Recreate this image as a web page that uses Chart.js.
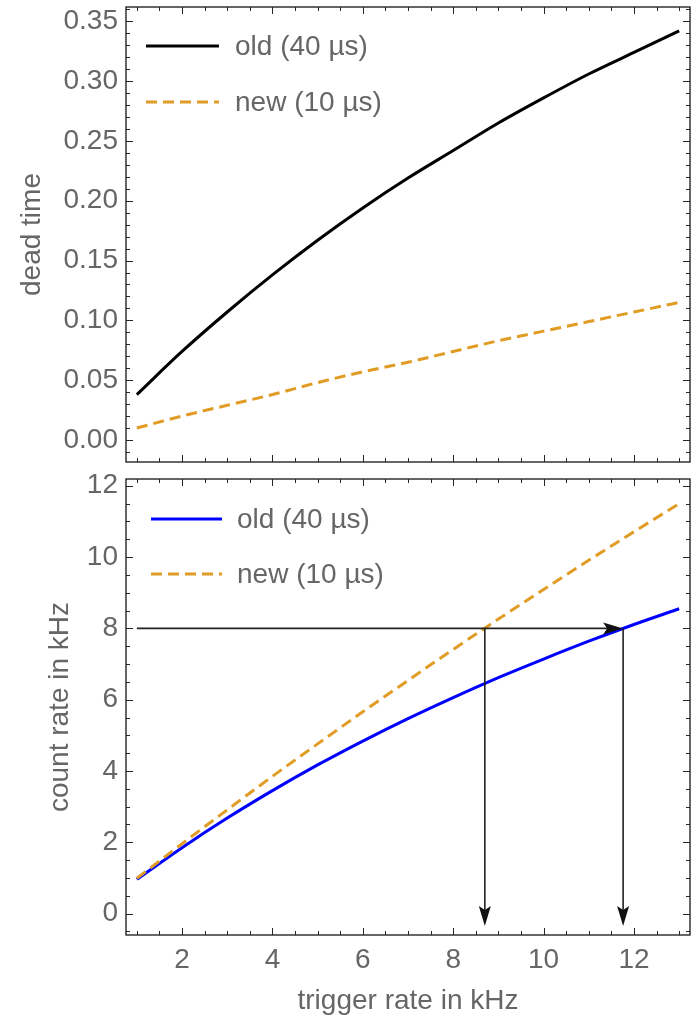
<!DOCTYPE html>
<html>
<head>
<meta charset="utf-8">
<script src="https://cdn.jsdelivr.net/npm/chart.js@4"></script>
<style>
  body { margin: 0; background: #fff; }
  #wrap { position: relative; width: 696px; height: 1018px; }
  canvas { position: absolute; left: 0; }
</style>
</head>
<body>
<div id="wrap">
  <canvas id="deadTime" width="696" height="470" style="top:0"></canvas>
  <canvas id="countRate" width="696" height="548" style="top:470px"></canvas>
</div>
<script>
// trigger rate in kHz
const triggerRate = [1, 2, 3, 4, 5, 6, 7, 8, 9, 10, 11, 12, 13];

// top panel: dead time fraction
const deadTimeOld = [0.038, 0.074, 0.107, 0.138, 0.167, 0.194, 0.219, 0.242, 0.265, 0.286, 0.306, 0.324, 0.342];
const deadTimeNew = [0.010, 0.020, 0.029, 0.038, 0.048, 0.057, 0.065, 0.074, 0.083, 0.091, 0.099, 0.107, 0.115];

// bottom panel: count rate in kHz
const countRateOld = [0.96, 1.85, 2.68, 3.45, 4.17, 4.84, 5.47, 6.06, 6.62, 7.14, 7.64, 8.11, 8.55];
const countRateNew = [0.99, 1.96, 2.91, 3.85, 4.76, 5.66, 6.54, 7.41, 8.26, 9.09, 9.91, 10.71, 11.50];

// arrows: 8 kHz count rate -> needed trigger rate
const arrowLevel = 8;
const arrowStartX = 1;
const crossNew = 8.70;
const crossOld = 11.76;
const arrowEndY = -0.35;

// ticks
const xMajor = [2, 4, 6, 8, 10, 12];
const xMinor = { from: 1, to: 13, step: 0.5 };
const deadMajor = [0.00, 0.05, 0.10, 0.15, 0.20, 0.25, 0.30, 0.35];
const deadMinor = { from: -0.01, to: 0.36, step: 0.01 };
const countMajor = [0, 2, 4, 6, 8, 10, 12];
const countMinor = { from: -0.5, to: 12, step: 0.5 };

const labels = ['old (40 µs)', 'new (10 µs)'];

const orange = '#e09c24';
const textGray = '#666666';
const frameColor = '#262626';
const fontFamily = '"Liberation Sans", Arial, sans-serif';

const range = (r) => {
    const out = [];
    const n = Math.round((r.to - r.from) / r.step);
    for (let i = 0; i <= n; i++) out.push(+(r.from + i * r.step).toFixed(4));
    return out;
};
const isMajor = (v, majors) => majors.some(m => Math.abs(m - v) < 1e-6);
const points = (ys) => triggerRate.map((x, i) => ({ x: x, y: ys[i] }));

const setTicks = (minor) => (scale) => {
    scale.ticks = range(minor).map(v => ({ value: v }));
};

// fixed axis box size, no extra padding for overhanging labels
const fixSize = (prop, size) => (s) => {
    s[prop] = size;
    s.paddingTop = 0;
    s.paddingBottom = 0;
    s.paddingLeft = 0;
    s.paddingRight = 0;
};

const frameTicks = (xMaj, yMaj) => ({
    id: 'frameTicks',
    afterDraw(chart) {
        const { ctx, chartArea: a, scales: { x, y } } = chart;
        ctx.save();
        ctx.strokeStyle = frameColor;
        ctx.lineWidth = 1;
        ctx.beginPath();
        x.ticks.forEach(t => {
            const px = Math.round(x.getPixelForValue(t.value)) + 0.5;
            const len = isMajor(t.value, xMaj) ? 7 : 4;
            ctx.moveTo(px, a.bottom); ctx.lineTo(px, a.bottom - len);
            ctx.moveTo(px, a.top); ctx.lineTo(px, a.top + len);
        });
        y.ticks.forEach(t => {
            const py = Math.round(y.getPixelForValue(t.value)) + 0.5;
            const len = isMajor(t.value, yMaj) ? 7 : 4;
            ctx.moveTo(a.left, py); ctx.lineTo(a.left + len, py);
            ctx.moveTo(a.right, py); ctx.lineTo(a.right - len, py);
        });
        ctx.stroke();
        ctx.lineWidth = 1.4;
        ctx.strokeRect(a.left, a.top, a.right - a.left, a.bottom - a.top);
        ctx.restore();
    }
});

const panelLegend = (lineX0, lineX1, textX, rowY) => ({
    id: 'panelLegend',
    afterDraw(chart) {
        const { ctx, chartArea: a } = chart;
        ctx.save();
        ctx.font = '28px ' + fontFamily;
        ctx.textBaseline = 'middle';
        ctx.fillStyle = textGray;
        chart.data.datasets.forEach(ds => {
            const i = labels.indexOf(ds.label);
            const yy = a.top + rowY[i];
            ctx.strokeStyle = ds.borderColor;
            ctx.lineWidth = ds.borderWidth;
            ctx.setLineDash(ds.borderDash || []);
            ctx.beginPath();
            ctx.moveTo(a.left + lineX0, yy);
            ctx.lineTo(a.left + lineX1, yy);
            ctx.stroke();
            ctx.fillText(ds.label, a.left + textX, yy + 1);
        });
        ctx.restore();
    }
});

const arrowHead = (ctx, x, y, dx, dy) => {
    const len = 20, half = 6;
    const bx = x - dx * len, by = y - dy * len;
    ctx.beginPath();
    ctx.moveTo(x, y);
    ctx.lineTo(bx - dy * half, by + dx * half);
    ctx.lineTo(bx + dx * 4, by + dy * 4);
    ctx.lineTo(bx + dy * half, by - dx * half);
    ctx.closePath();
    ctx.fill();
};

const arrows = {
    id: 'arrows',
    afterDatasetsDraw(chart) {
        const { ctx, scales: { x, y } } = chart;
        const px = (v) => x.getPixelForValue(v);
        const py = (v) => y.getPixelForValue(v);
        ctx.save();
        ctx.strokeStyle = '#222';
        ctx.fillStyle = '#111';
        ctx.lineWidth = 1.6;
        ctx.beginPath();
        ctx.moveTo(px(arrowStartX), py(arrowLevel));
        ctx.lineTo(px(crossOld) - 10, py(arrowLevel));
        ctx.moveTo(px(crossNew), py(arrowLevel));
        ctx.lineTo(px(crossNew), py(arrowEndY) - 10);
        ctx.moveTo(px(crossOld), py(arrowLevel));
        ctx.lineTo(px(crossOld), py(arrowEndY) - 10);
        ctx.stroke();
        arrowHead(ctx, px(crossOld), py(arrowLevel), 1, 0);
        arrowHead(ctx, px(crossNew), py(arrowEndY), 0, 1);
        arrowHead(ctx, px(crossOld), py(arrowEndY), 0, 1);
        ctx.restore();
    }
};

const tickFont = { family: fontFamily, size: 28 };
const titleFont = { family: fontFamily, size: 28 };

const xScale = (showLabels, height) => ({
    type: 'linear',
    min: 0.76,
    max: 13.24,
    afterBuildTicks: setTicks(xMinor),
    afterFit: fixSize('height', height),
    grid: { display: false, drawTicks: false },
    border: { display: false },
    ticks: {
        display: showLabels,
        autoSkip: false,
        maxRotation: 0,
        padding: 8,
        color: textGray,
        font: tickFont,
        callback: (v) => isMajor(v, xMajor) ? String(v) : ''
    },
    title: showLabels ? {
        display: true,
        text: 'trigger rate in kHz',
        color: textGray,
        font: titleFont,
        padding: { top: 0, bottom: 0 }
    } : { display: false }
});

const baseOptions = (padTop, scales) => ({
    responsive: false,
    animation: false,
    layout: { padding: { top: padTop, right: 6, left: 0, bottom: 0 } },
    plugins: { legend: { display: false }, tooltip: { enabled: false } },
    elements: { point: { radius: 0 }, line: { cubicInterpolationMode: 'monotone' } },
    scales: scales
});

new Chart(document.getElementById('deadTime'), {
    type: 'line',
    data: {
        datasets: [{
            label: labels[0],
            data: points(deadTimeOld),
            borderColor: '#000000',
            borderWidth: 3
        }, {
            label: labels[1],
            data: points(deadTimeNew),
            borderColor: orange,
            borderWidth: 3,
            borderDash: [11, 6]
        }]
    },
    options: baseOptions(7, {
        x: xScale(false, 8),
        y: {
            type: 'linear',
            min: -0.0184,
            max: 0.362,
            afterBuildTicks: setTicks(deadMinor),
            afterFit: fixSize('width', 126),
            grid: { display: false, drawTicks: false },
            border: { display: false },
            ticks: {
                autoSkip: false,
                padding: 8,
                color: textGray,
                font: tickFont,
                callback: (v) => isMajor(v, deadMajor) ? v.toFixed(2) : ''
            },
            title: {
                display: true,
                text: 'dead time',
                color: textGray,
                font: titleFont,
                padding: { top: 15, bottom: 0 }
            }
        }
    }),
    plugins: [frameTicks(xMajor, deadMajor), panelLegend(20, 93, 109, [39, 95])]
});

new Chart(document.getElementById('countRate'), {
    type: 'line',
    data: {
        datasets: [{
            label: labels[1],
            data: points(countRateNew),
            borderColor: orange,
            borderWidth: 3,
            borderDash: [11, 6]
        }, {
            label: labels[0],
            data: points(countRateOld),
            borderColor: '#0000ff',
            borderWidth: 3
        }]
    },
    options: baseOptions(9, {
        x: xScale(true, 83),
        y: {
            type: 'linear',
            min: -0.6,
            max: 12.19,
            afterBuildTicks: setTicks(countMinor),
            afterFit: fixSize('width', 126),
            grid: { display: false, drawTicks: false },
            border: { display: false },
            ticks: {
                autoSkip: false,
                padding: 8,
                color: textGray,
                font: tickFont,
                callback: (v) => isMajor(v, countMajor) ? String(v) : ''
            },
            title: {
                display: true,
                text: 'count rate in kHz',
                color: textGray,
                font: titleFont,
                padding: { top: 43, bottom: 0 }
            }
        }
    }),
    plugins: [frameTicks(xMajor, countMajor), panelLegend(25, 96, 111, [40, 95]), arrows]
});
</script>
</body>
</html>
